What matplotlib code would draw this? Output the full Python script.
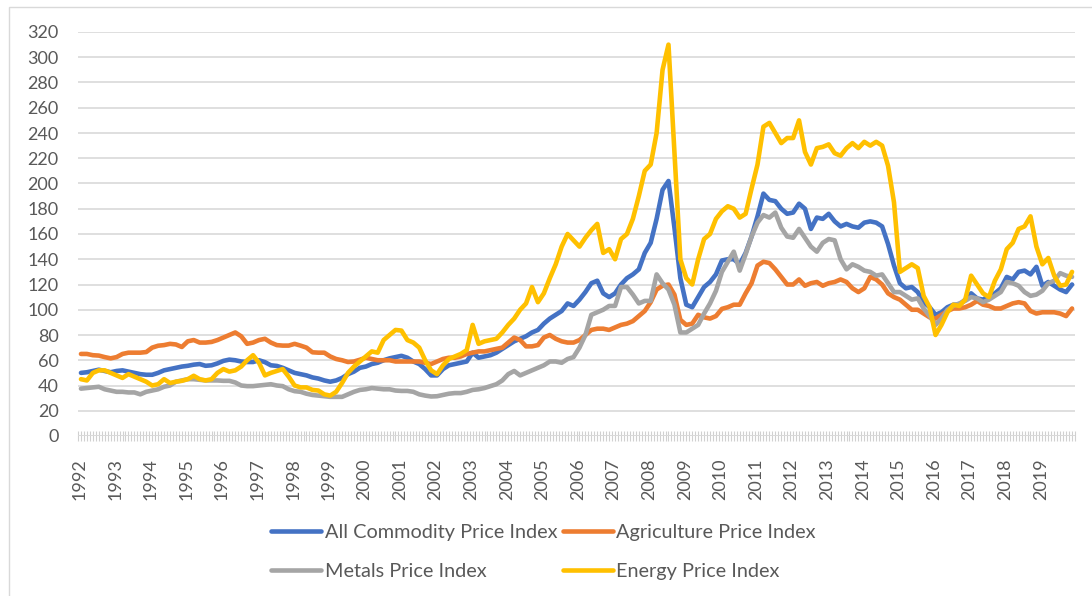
import numpy as np
import matplotlib
matplotlib.use("Agg")
import matplotlib.pyplot as plt
from matplotlib.patches import Rectangle

plt.rcParams['font.family'] = ['Lato', 'DejaVu Sans']

years = list(range(1992, 2020))
series_names = ["All Commodity Price Index", "Agriculture Price Index",
                "Metals Price Index", "Energy Price Index"]
colors = ["#4472C4", "#ED7D31", "#A5A5A5", "#FFC000"]

# Bimonthly values (Jan-Feb, Mar-Apr, May-Jun, Jul-Aug, Sep-Oct, Nov-Dec), one row per year
all_commodity = [
    50, 50.5, 51.5, 52.5, 51.5, 50.5,      # 1992
    51.5, 52, 51, 50, 49, 48.5,            # 1993
    48.5, 50, 52, 53, 54, 55,              # 1994
    55.6, 56.5, 57, 55.6, 56, 57.5,        # 1995
    59.5, 60.5, 60, 59, 58.6, 58.6,        # 1996
    60, 58.5, 56, 55.5, 54, 52,            # 1997
    50, 49, 48, 46.4, 45.5, 44,            # 1998
    43, 44, 46, 49, 51, 54,                # 1999
    55, 57, 58, 60, 61.5, 62.5,            # 2000
    63.5, 62, 59, 57, 53, 48,              # 2001
    48, 53, 56, 57, 58, 59,                # 2002
    66, 62, 63, 64, 66, 69,                # 2003
    72, 75, 77, 79, 82, 84,                # 2004
    89, 93, 96, 99, 105, 103,              # 2005
    108, 114, 121, 123, 113, 110,          # 2006
    113, 120, 125, 128, 132, 145,          # 2007
    153, 172, 195, 202, 165, 125,          # 2008
    104, 102, 110, 118, 122, 128,          # 2009
    139, 140, 140, 136, 145, 158,          # 2010
    174, 192, 187, 186, 180, 176,          # 2011
    177, 184, 180, 164, 173, 172,          # 2012
    176, 170, 166, 168, 166, 165,          # 2013
    169, 170, 169, 166, 152, 135,          # 2014
    121, 117, 118, 114, 106, 102,          # 2015
    96, 98, 102, 104, 104, 108,            # 2016
    113, 109, 108, 111, 113, 117,          # 2017
    126, 124, 130, 131, 128, 134,          # 2018
    119, 122, 119, 116, 114, 120,          # 2019
]
agriculture = [
    65, 65, 64, 63.7, 62.5, 61.5,
    62.5, 65, 66, 66, 66, 66.5,
    70, 71.5, 72, 73, 72.5, 70.5,
    75, 76, 74, 74, 74.5, 76,
    78, 80, 82, 79, 73, 74,
    76, 77, 74, 72, 71.6, 71.6,
    73, 71.6, 70, 66.3, 66, 66,
    63, 61, 60, 58.6, 59, 60.4,
    62, 61, 60, 60, 60, 59,
    59, 59, 59, 59, 58, 57,
    59, 61, 62, 62, 63, 65,
    66, 67, 67, 68, 69, 70,
    74, 78, 76, 71, 71, 72,
    78, 80, 77, 75, 74, 74,
    76, 80, 84, 85, 85, 84,
    86, 88, 89, 91, 95, 99,
    106, 116, 119, 120, 112, 92,
    88, 89, 96, 94, 93, 95,
    100.7, 102, 104, 104, 113, 121,
    135, 138, 137, 132, 126, 120,
    120, 124, 119, 121, 122, 119,
    121, 122, 124, 122, 117, 114,
    117, 126, 124, 120, 113, 110,
    108, 104, 100, 100, 97, 94,
    93, 96, 99, 101, 101, 102,
    104, 107, 104, 103, 101, 101,
    103, 105, 106, 105, 99, 97,
    98, 98, 98, 97, 95, 101,
]
metals = [
    37.5, 38, 38.5, 39, 37, 36,
    35, 35, 34.5, 34.5, 33, 35,
    36, 37, 39, 40, 43, 44,
    45, 45, 44.5, 44, 44, 44,
    43.7, 43.7, 42.4, 40, 39.5, 39.5,
    40, 40.5, 41, 40, 39.5, 37,
    35.5, 35, 33.5, 32.5, 32, 31.5,
    31, 31, 31, 33, 35, 36.5,
    37, 38, 37.5, 37, 37, 36,
    35.7, 35.7, 35, 33, 32, 31.3,
    31.5, 32.5, 33.5, 34, 34, 35,
    36.5, 37, 38, 39.5, 41, 44,
    49, 51.5, 48, 50, 52, 54,
    56, 59, 59, 58, 61, 62.5,
    70, 80, 96, 98, 100, 103,
    103, 118, 118, 112, 105, 107,
    107, 128, 121, 116, 104, 82,
    82, 85, 88, 97, 105, 115,
    130, 138, 146, 131, 144, 158,
    169, 175, 173, 177, 165, 158,
    157, 164, 157, 150, 146, 153,
    156, 155, 140, 132, 136, 134,
    131, 130, 127, 128, 121, 114,
    114, 111, 108, 109, 101, 95,
    88, 93, 100, 103, 105, 107,
    110, 109, 106, 108, 111, 114,
    122, 121, 119, 114, 111, 112,
    115, 121, 123, 129, 127, 126,
]
energy = [
    45, 44, 50, 52, 52, 50,
    48, 46, 49, 47, 45, 43,
    40, 41, 45, 42, 43, 43.7,
    45, 47.7, 45, 44, 45, 50,
    53, 51, 52, 55, 60, 64,
    58, 48, 50, 51.5, 53, 47,
    40, 38.5, 38.5, 36.5, 36, 33,
    32, 35, 42, 50, 55, 59,
    63, 67, 66, 76, 80, 84,
    83.5, 76, 74, 70, 60, 52,
    49, 56, 61, 63, 65, 68,
    88, 73, 75, 76, 77, 82,
    88, 93, 100, 105, 118, 106,
    113, 125, 136, 150, 160, 155,
    150, 157, 163, 168, 145, 148,
    140, 156, 160, 172, 190, 210,
    215, 240, 290, 310, 225, 140,
    125, 120, 140, 156, 160, 172,
    178, 182, 180, 173, 176, 196,
    215, 245, 248, 240, 232, 236,
    236, 250, 225, 215, 228, 229,
    231, 224, 222, 228, 232, 228,
    233, 230, 233, 230, 214, 185,
    130, 133, 136, 133, 111, 102,
    80, 88, 98, 104, 103, 108,
    127, 120, 113, 110, 123, 132,
    148, 153, 164, 166, 174, 150,
    136, 141, 127, 119, 120, 130,
]

W, H = 1092, 596
fig = plt.figure(figsize=(W / 100, H / 100), dpi=100)
fig.patches.append(Rectangle((9 / W, -0.05), 1.2, 1.05 - 7 / H, transform=fig.transFigure,
                             fill=False, edgecolor="#d9d9d9", linewidth=1.0))

ax = fig.add_axes([78 / W, 1 - 436 / H, (1075 - 78) / W, (436 - 32) / H])
n_months = 12 * len(years)
x = np.arange(len(all_commodity)) * 2 + 1.0

handles = []
for vals, name, c in zip([all_commodity, agriculture, metals, energy], series_names, colors):
    ln, = ax.plot(x, vals, color=c, lw=3.3, label=name, solid_capstyle='round',
                  solid_joinstyle='round')
    handles.append(ln)

ax.set_xlim(0, n_months)
ax.set_ylim(0, 320)
ax.set_yticks(np.arange(0, 321, 20))
ax.grid(axis='y', color='#d9d9d9', lw=1.2)
ax.set_axisbelow(True)
for s in ax.spines.values():
    s.set_visible(False)
ax.axhline(0, color='#d9d9d9', lw=1.2, zorder=1)

ax.set_xticks(np.arange(len(years)) * 12 + 0.5)
ax.set_xticklabels([str(y) for y in years], rotation=90)
ax.set_xticks(np.arange(0, n_months + 1), minor=True)
ax.tick_params(axis='x', which='major', length=0, pad=16, labelsize=13, labelcolor='#595959')
ax.tick_params(axis='x', which='minor', length=7, direction='inout', color='#d0d0d0', width=0.8)
ax.tick_params(axis='y', length=0, pad=14, labelsize=13, labelcolor='#595959')

# row-wise order in a 2-column legend: All, Agriculture / Metals, Energy
order = [0, 2, 1, 3]
leg = fig.legend([handles[i] for i in order], [series_names[i] for i in order],
                 loc='center', bbox_to_anchor=(0.4977, 0.0738), ncol=2, frameon=False,
                 fontsize=14.3, handlelength=2.5, handletextpad=0.18, columnspacing=0.3,
                 labelspacing=1.15, labelcolor='#595959')
for line in leg.get_lines():
    line.set_linewidth(3.3)

fig.savefig("out.png", dpi=100)
